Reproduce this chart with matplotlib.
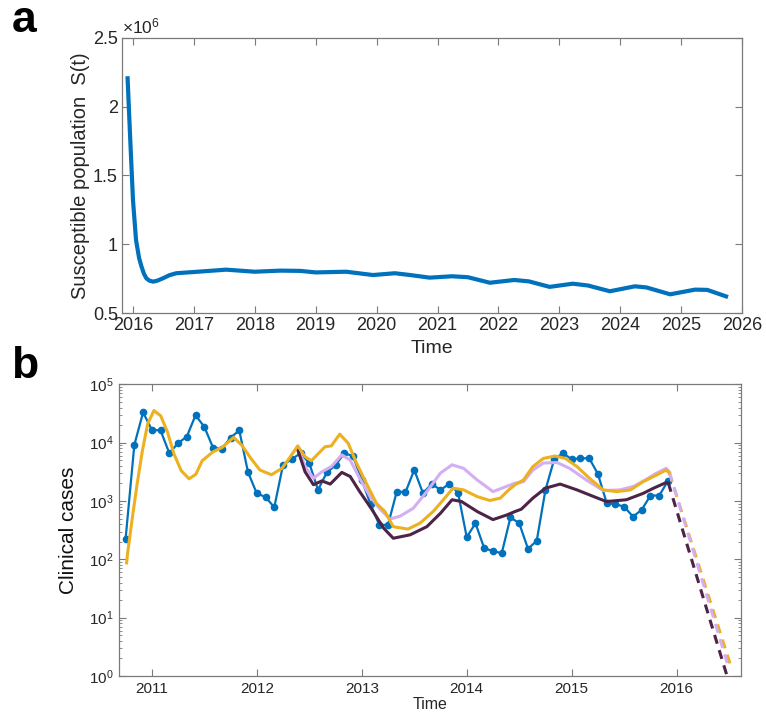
import numpy as np
import pandas as pd
import matplotlib
matplotlib.use("Agg")
import matplotlib.pyplot as plt
from matplotlib.ticker import LogLocator, FixedLocator, NullFormatter

plt.rcParams['font.family'] = ['Liberation Sans', 'DejaVu Sans']
plt.rcParams['mathtext.fontset'] = 'custom'
plt.rcParams['mathtext.rm'] = 'Liberation Sans'
plt.rcParams['mathtext.it'] = 'Liberation Sans:italic'

# ---- panel a: susceptible population (millions) ----
s_time = [2015.91, 2015.95, 2016.00, 2016.05, 2016.10, 2016.14, 2016.18, 2016.22,
          2016.27, 2016.33, 2016.40, 2016.49, 2016.60, 2016.71, 2017.00, 2017.53,
          2018.00, 2018.42, 2018.75, 2019.00, 2019.50, 2019.94, 2020.30, 2020.55,
          2020.87, 2021.24, 2021.50, 2021.86, 2022.26, 2022.50, 2022.84, 2023.22,
          2023.47, 2023.83, 2024.24, 2024.43, 2024.82, 2025.23, 2025.43, 2025.77]
s_value = [2.22, 1.81, 1.32, 1.03, 0.90, 0.837, 0.785, 0.752,
           0.735, 0.728, 0.735, 0.752, 0.775, 0.789, 0.798, 0.815,
           0.800, 0.808, 0.806, 0.795, 0.800, 0.776, 0.789, 0.776,
           0.757, 0.767, 0.760, 0.720, 0.740, 0.730, 0.690, 0.713,
           0.700, 0.658, 0.694, 0.686, 0.636, 0.670, 0.668, 0.616]

# ---- panel b: monthly clinical cases ----
obs_months = pd.date_range('2010-10-01', periods=63, freq='MS')
obs_cases = [221, 9100, 33000, 16600, 16200, 6600, 9800, 12700, 29500, 18700,
             8200, 7800, 12200, 16200, 3100, 1350, 1170, 780, 4160, 5200,
             6600, 4460, 1550, 3080, 4100, 6600, 5900, 2300, 880, 390,
             390, 1450, 1420, 3400, 1360, 1960, 1550, 1960, 1390, 240,
             415, 155, 139, 127, 525, 415, 152, 207, 1550, 5200,
             6600, 5200, 5400, 5400, 2900, 920, 880, 800, 540, 705,
             1240, 1240, 2200]

fit_time = [2010.76, 2010.77, 2010.815, 2010.86, 2010.91, 2010.96, 2011.02, 2011.085,
            2011.15, 2011.21, 2011.28, 2011.355, 2011.42, 2011.48, 2011.58, 2011.67,
            2011.78, 2011.86, 2011.94, 2012.03, 2012.14, 2012.24, 2012.32, 2012.39,
            2012.46, 2012.52, 2012.59, 2012.65, 2012.71, 2012.79, 2012.87, 2012.95,
            2013.05, 2013.14, 2013.22, 2013.30, 2013.44, 2013.555, 2013.68, 2013.79,
            2013.87, 2013.97, 2014.10, 2014.22, 2014.32, 2014.40, 2014.46, 2014.54,
            2014.63, 2014.73, 2014.84, 2014.94, 2015.05, 2015.17, 2015.30, 2015.43,
            2015.56, 2015.68, 2015.78, 2015.90, 2015.93]
fit_cases = [87, 130, 525, 1950, 7240, 20900, 35500, 28800,
             15100, 6460, 3310, 2400, 2880, 4900, 6900, 8300,
             12300, 8900, 5500, 3390, 2820, 3630, 5750, 8800,
             5750, 4900, 6600, 8500, 8800, 14000, 9800, 4470,
             1900, 910, 660, 363, 330, 417, 660, 1120,
             1660, 1550, 1190, 1020, 1120, 1550, 1900, 2290,
             3890, 5370, 5900, 5370, 3890, 2450, 1550, 1450,
             1550, 2140, 2630, 3390, 3020]
fit_proj_time = [2015.93, 2016.52]
fit_proj_cases = [3020, 1.4]

lilac_time = [2012.39, 2012.46, 2012.54, 2012.62, 2012.71, 2012.81, 2012.89, 2012.98,
              2013.08, 2013.17, 2013.27, 2013.365, 2013.49, 2013.62, 2013.75, 2013.86,
              2013.97, 2014.10, 2014.25, 2014.38, 2014.46, 2014.54, 2014.63, 2014.73,
              2014.86, 2014.98, 2015.14, 2015.30, 2015.46, 2015.59, 2015.70, 2015.80,
              2015.90, 2015.93]
lilac_cases = [8500, 3890, 2450, 3160, 3890, 6170, 5010, 2450,
               1190, 740, 490, 550, 750, 1450, 3020, 4170,
               3630, 2290, 1450, 1780, 2020, 2140, 3390, 4470,
               4570, 3630, 2290, 1510, 1550, 1780, 2290, 2950,
               3630, 3160]
lilac_proj_time = [2015.93, 2016.50]
lilac_proj_cases = [3160, 1.3]

plum_time = [2012.39, 2012.46, 2012.54, 2012.62, 2012.70, 2012.81, 2012.89, 2012.98,
             2013.08, 2013.21, 2013.30, 2013.46, 2013.62, 2013.75, 2013.86, 2013.95,
             2014.10, 2014.25, 2014.38, 2014.46, 2014.52, 2014.63, 2014.75, 2014.89,
             2015.05, 2015.21, 2015.33, 2015.52, 2015.68, 2015.78, 2015.90, 2015.92]
plum_cases = [7590, 3160, 1900, 2210, 1950, 3090, 2630, 1450,
              794, 340, 230, 263, 363, 617, 1050, 980,
              660, 480, 575, 660, 724, 1120, 1660, 1950,
              1550, 1190, 980, 1050, 1350, 1660, 2070, 2040]
plum_proj_time = [2015.92, 2016.48]
plum_proj_cases = [2040, 1.0]

blue = '#0072BD'
yellow = '#EDB120'
lilac = '#D4AEF2'
plum = '#4D2346'
axis_gray = '#7a7a7a'
text_gray = '#262626'

fig = plt.figure(figsize=(7.66, 7.15), dpi=100)

# panel a
ax1 = fig.add_axes([0.1593, 0.5622, 0.8094, 0.3851])
ax1.plot(s_time, s_value, color=blue, lw=3.0, solid_capstyle='butt', solid_joinstyle='round')
ax1.set_xlim(2015.82, 2026)
ax1.set_ylim(0.5, 2.5)
ax1.set_xticks(range(2016, 2027))
ax1.set_yticks([0.5, 1, 1.5, 2, 2.5])
ax1.set_yticklabels(['0.5', '1', '1.5', '2', '2.5'])
ax1.tick_params(direction='in', top=True, right=True, length=5, width=0.8,
                color=axis_gray, labelcolor=text_gray, labelsize=13, pad=3)
for sp in ax1.spines.values():
    sp.set_color(axis_gray)
    sp.set_linewidth(0.9)
ax1.set_xlabel('Time', fontsize=14, color=text_gray, labelpad=4)
ax1.set_ylabel('Susceptible population  S(t)', fontsize=14.5, color=text_gray, labelpad=2)
ax1.text(0.0, 1.005, r'$\times 10^{6}$', transform=ax1.transAxes, fontsize=12.5,
         color=text_gray, ha='left', va='bottom')

# panel b
ax2 = fig.add_axes([0.1557, 0.0545, 0.8113, 0.4080])
ax2.plot(obs_months.year + (obs_months.month - 1) / 12, obs_cases, color=blue, lw=1.6,
         marker='o', ms=4.5, zorder=2)
ax2.plot(fit_time, fit_cases, color=yellow, lw=2.2, zorder=4, solid_joinstyle='round')
ax2.plot(lilac_time, lilac_cases, color=lilac, lw=2.2, zorder=3, solid_joinstyle='round')
ax2.plot(plum_time, plum_cases, color=plum, lw=2.2, zorder=3, solid_joinstyle='round')
ax2.plot(fit_proj_time, fit_proj_cases, color=yellow, lw=2.2, dashes=(3, 2.2), zorder=3)
ax2.plot(lilac_proj_time, lilac_proj_cases, color=lilac, lw=2.2, dashes=(3, 2.2), zorder=3)
ax2.plot(plum_proj_time, plum_proj_cases, color=plum, lw=2.2, dashes=(3, 2.2), zorder=4)
ax2.set_yscale('log')
ax2.set_xlim(2010.69, 2016.61)
ax2.set_ylim(1, 1e5)
ax2.set_xticks(range(2011, 2017))
ax2.yaxis.set_major_locator(FixedLocator([1, 10, 100, 1e3, 1e4, 1e5]))
ax2.set_yticklabels([r'$10^{%d}$' % k for k in range(6)])
ax2.yaxis.set_minor_locator(LogLocator(base=10, subs=np.arange(2, 10)))
ax2.yaxis.set_minor_formatter(NullFormatter())
ax2.tick_params(which='major', direction='in', top=True, right=True, length=5, width=0.8,
                color=axis_gray, labelcolor=text_gray, labelsize=11, pad=4)
ax2.tick_params(which='minor', direction='in', right=True, length=2.5, width=0.6,
                color=axis_gray)
for sp in ax2.spines.values():
    sp.set_color(axis_gray)
    sp.set_linewidth(0.9)
ax2.set_xlabel('Time', fontsize=11.5, color=text_gray, labelpad=1)
ax2.set_ylabel('Clinical cases', fontsize=15, color='#111111', labelpad=8)

fig.text(0.015, 0.955, 'a', fontsize=32, fontweight='bold', ha='left', va='baseline')
fig.text(0.015, 0.472, 'b', fontsize=32, fontweight='bold', ha='left', va='baseline')

fig.savefig('out.png', dpi=100)
